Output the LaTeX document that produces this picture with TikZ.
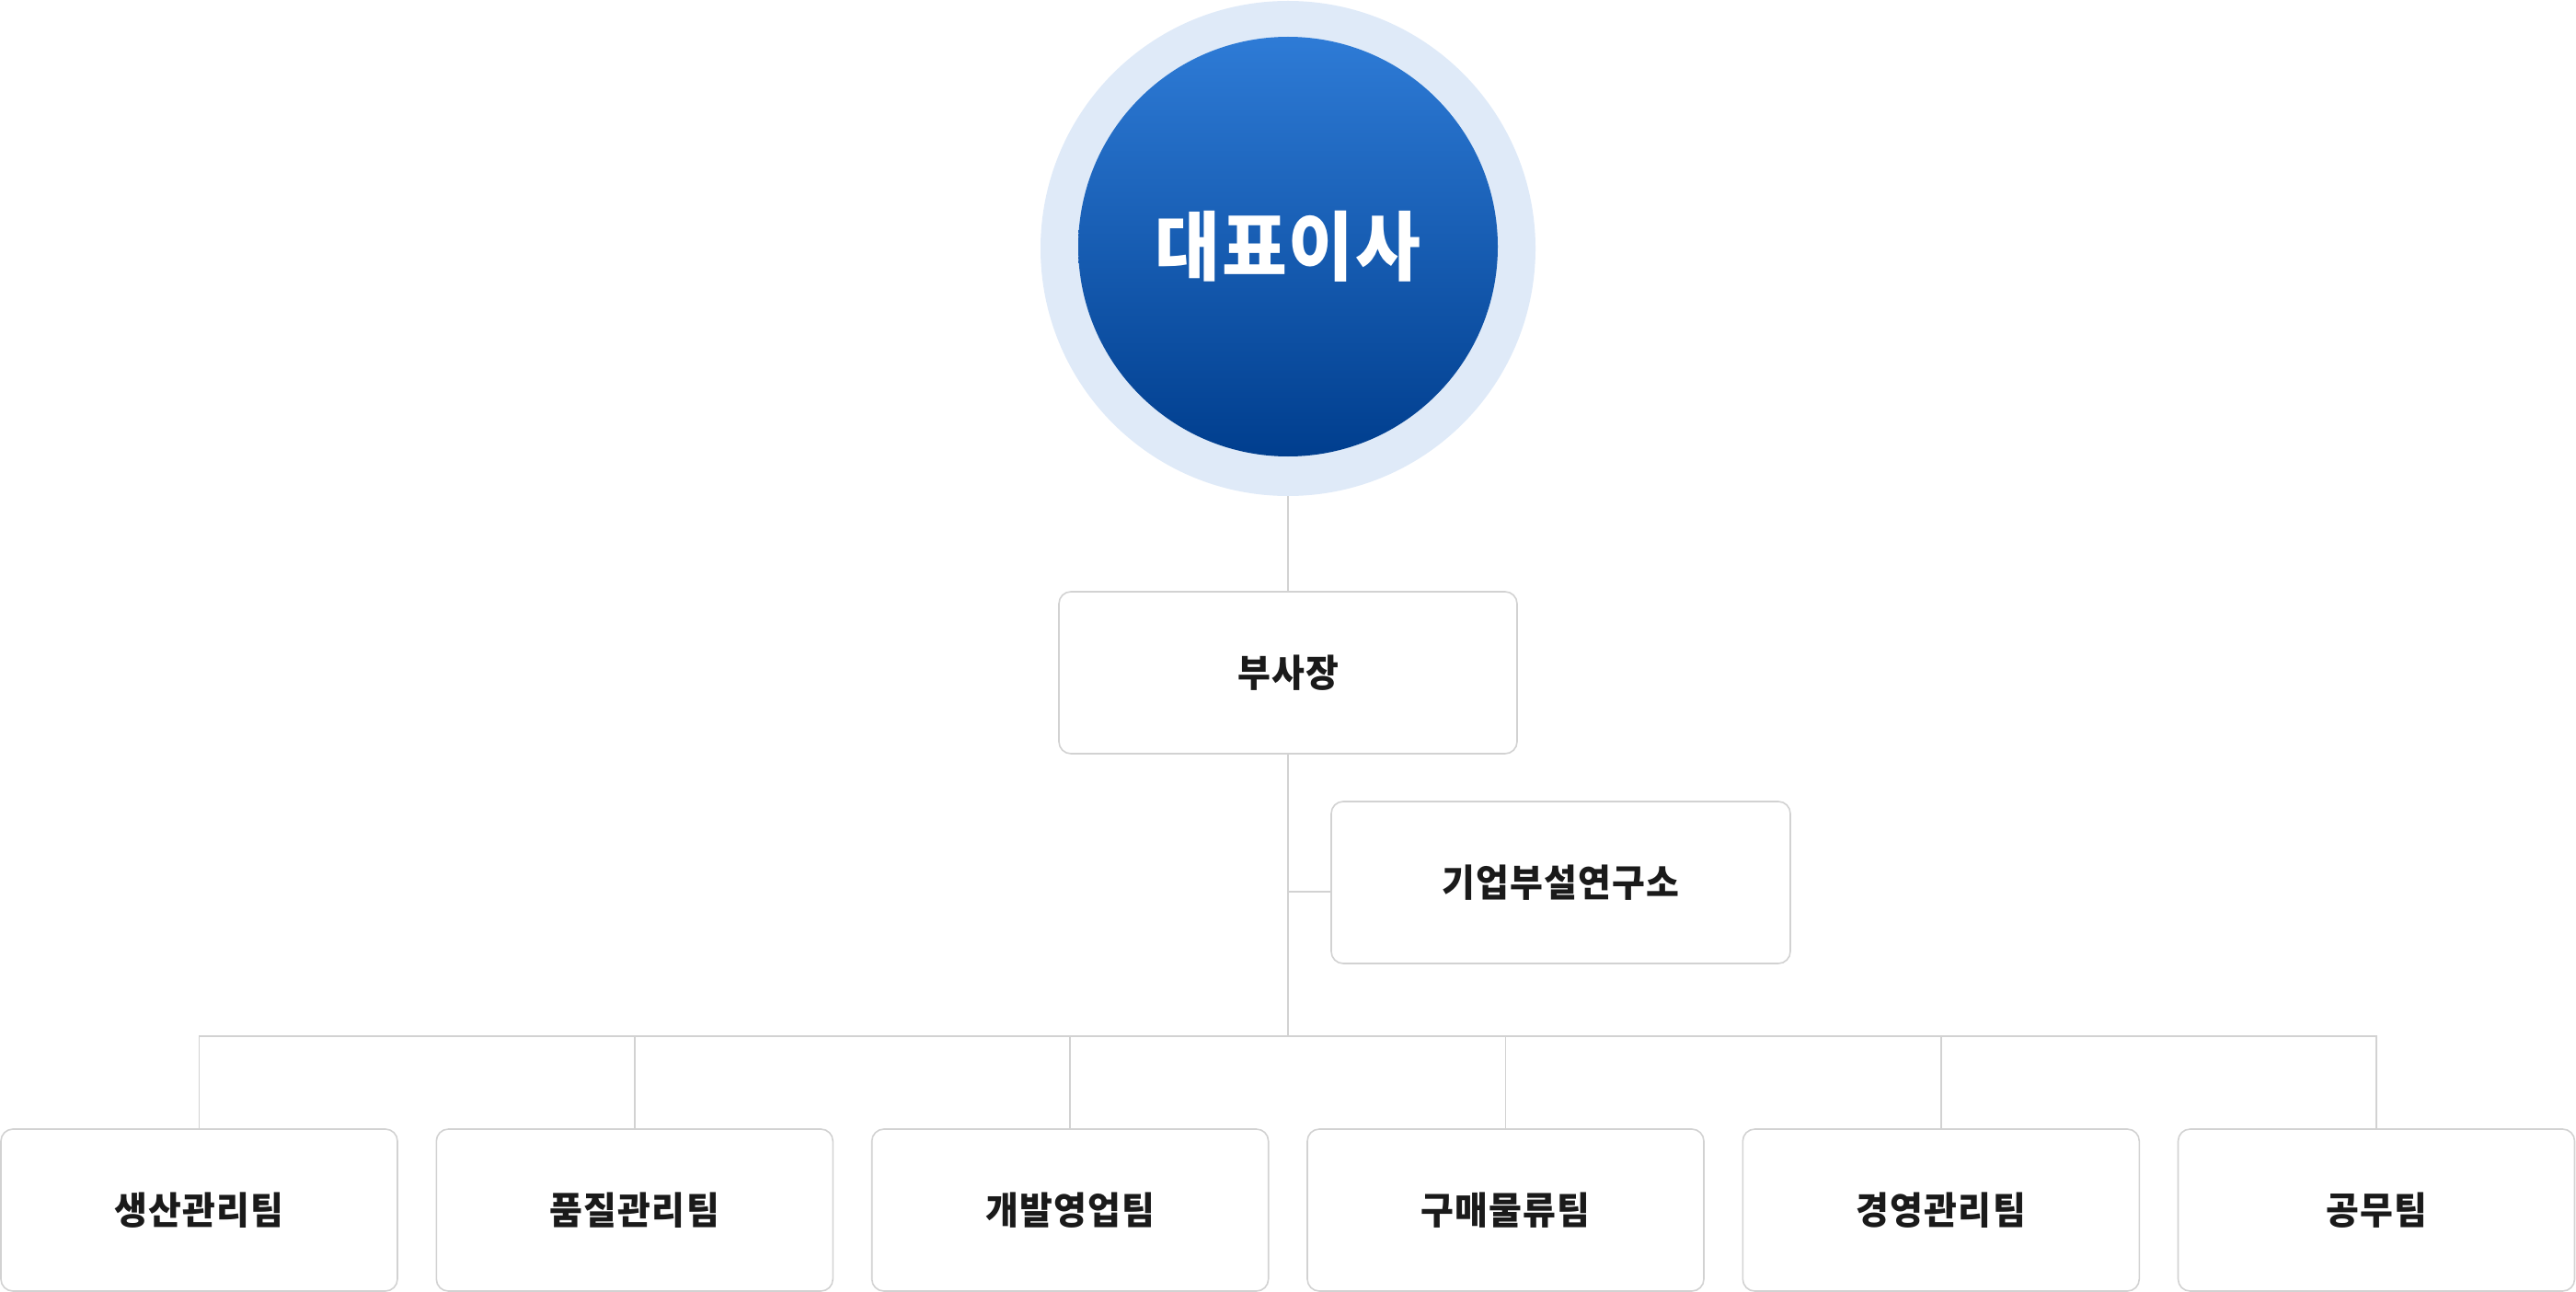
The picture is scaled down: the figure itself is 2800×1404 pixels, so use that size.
\documentclass[tikz,border=0pt]{standalone}
\usepackage{fontspec}
\setmainfont{Noto Sans CJK KR}
\newfontfamily\krbox[LetterSpace=3,FakeStretch=0.95]{Noto Sans CJK KR}
\newfontfamily\krceo[LetterSpace=2,FakeStretch=0.94]{Noto Sans CJK KR}
\definecolor{ringcol}{HTML}{DFEAF8}
\definecolor{gradtop}{HTML}{2E7BD6}
\definecolor{gradbot}{HTML}{003E8E}
\definecolor{linecol}{HTML}{D2D2D2}
\definecolor{textcol}{HTML}{1A1A1A}
\tikzset{
  orgbox/.style={draw=linecol, line width=1.6pt, rounded corners=13pt, fill=white,
    minimum width=#1, minimum height=176pt, inner sep=0pt, text=textcol,
    font=\krbox\bfseries\fontsize{41}{48}\selectfont},
  orgbox/.default=431pt,
  conn/.style={draw=linecol, line width=1.6pt}
}
\begin{document}
\begin{tikzpicture}[x=1pt,y=-1pt]
\useasboundingbox (0,0) rectangle (2800,1404);
% CEO circle
\node[circle, fill=ringcol, minimum size=538pt, inner sep=0pt] (ring) at (1400,270) {};
\node[circle, top color=gradtop, bottom color=gradbot, minimum size=456pt, inner sep=0pt,
  text=white, font=\krceo\bfseries\fontsize{82}{96}\selectfont] (ceo) at (1400,268) {대표이사};
% vice president
\node[orgbox=498pt] (vp) at (1400,731) {부사장};
% research lab
\node[orgbox=499pt] (lab) at (1696.5,959) {기업부설연구소};
% teams
\node[orgbox] (t1) at (216.5,1315) {생산관리팀};
\node[orgbox] (t2) at (689.8,1315) {품질관리팀};
\node[orgbox] (t3) at (1163.2,1315) {개발영업팀};
\node[orgbox] (t4) at (1636.5,1315) {구매물류팀};
\node[orgbox] (t5) at (2109.8,1315) {경영관리팀};
\node[orgbox] (t6) at (2583,1315) {공무팀};
% connectors
\coordinate (br) at (1400,969);
\coordinate (hub) at (1400,1126);
\draw[conn] (ring.south) -- (vp.north);
\draw[conn] (vp.south) -- (hub);
\draw[conn] (br) -- (lab.west |- br);
\draw[conn] (t1.north) |- (hub) -| (t6.north);
\foreach \t in {t2,t3,t4,t5}{
  \draw[conn] (\t.north) -- (\t.north |- hub);
}
\end{tikzpicture}
\end{document}
